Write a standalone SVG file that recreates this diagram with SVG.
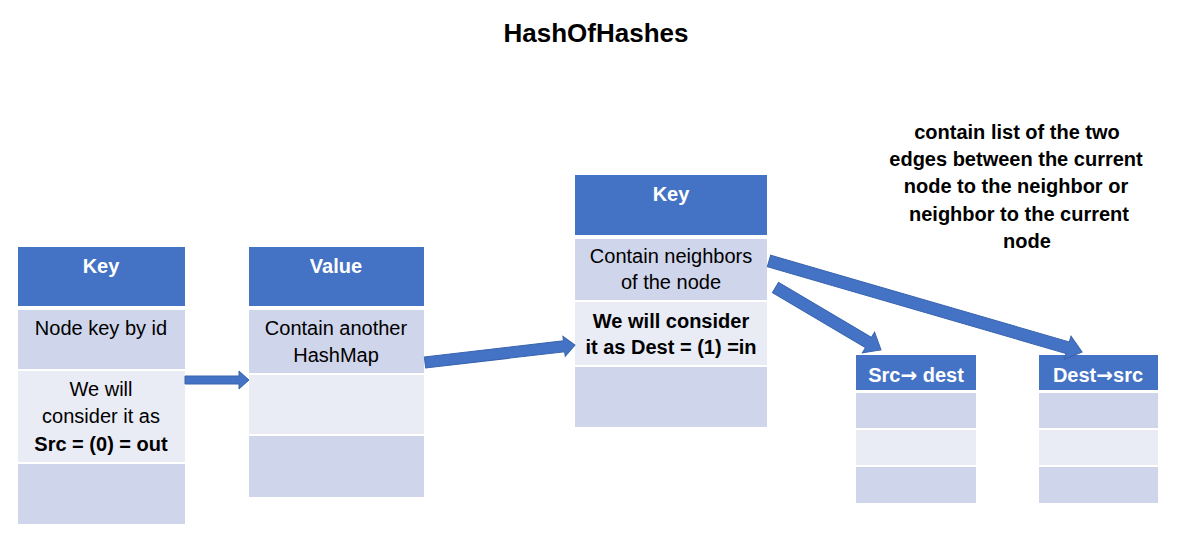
<svg xmlns="http://www.w3.org/2000/svg" width="1179" height="550" viewBox="0 0 1179 550">
<style>
  .hd { fill: #4472C4; }
  .r1 { fill: #CFD5EA; }
  .r2 { fill: #E9EBF5; }
  text { font-family: "Liberation Sans", Arial, sans-serif; text-anchor: middle; }
  .ht { fill: #FFFFFF; font-weight: bold; font-size: 20px; }
  .ct { fill: #000000; font-size: 20px; }
  .b { font-weight: bold; }
  .ar { font-family: "DejaVu Sans", sans-serif; font-weight: bold; }
  .note { fill: #000000; font-weight: bold; font-size: 20px; }
  .arr { fill: #4472C4; stroke: #3A64AE; stroke-width: 1; }
</style>
<rect width="1179" height="550" fill="#FFFFFF"/>
<text x="596" y="42" style="font-size:26px;font-weight:bold;fill:#000">HashOfHashes</text>

<g id="key-table">
  <rect class="hd" x="18" y="247" width="167" height="59"/>
  <rect class="r1" x="18" y="310" width="167" height="59"/>
  <rect class="r2" x="18" y="371" width="167" height="91"/>
  <rect class="r1" x="18" y="464" width="167" height="60"/>
  <text class="ht" x="101" y="273">Key</text>
  <text class="ct" x="101" y="335">Node key by id</text>
  <text class="ct" x="101" y="396">We will</text>
  <text class="ct" x="101" y="423">consider it as</text>
  <text class="ct b" x="101" y="451">Src = (0) = out</text>
</g>

<g id="value-table">
  <rect class="hd" x="249" y="247" width="175" height="59"/>
  <rect class="r1" x="249" y="310" width="175" height="63"/>
  <rect class="r2" x="249" y="375" width="175" height="59"/>
  <rect class="r1" x="249" y="436" width="175" height="61"/>
  <text class="ht" x="336" y="273">Value</text>
  <text class="ct" x="336" y="335">Contain another</text>
  <text class="ct" x="336" y="362">HashMap</text>
</g>

<g id="inner-key-table">
  <rect class="hd" x="575" y="175" width="192" height="60"/>
  <rect class="r1" x="575" y="239" width="192" height="61"/>
  <rect class="r2" x="575" y="302" width="192" height="63"/>
  <rect class="r1" x="575" y="367" width="192" height="60"/>
  <text class="ht" x="671" y="201">Key</text>
  <text class="ct" x="671" y="263">Contain neighbors</text>
  <text class="ct" x="671" y="289">of the node</text>
  <text class="ct b" x="671" y="328">We will consider</text>
  <text class="ct b" x="671" y="354">it as Dest = (1) =in</text>
</g>

<g id="src-dest-table">
  <rect class="hd" x="856" y="355" width="120" height="35"/>
  <rect class="r1" x="856" y="393" width="120" height="35"/>
  <rect class="r2" x="856" y="430" width="120" height="35"/>
  <rect class="r1" x="856" y="467" width="120" height="36"/>
  <text class="ht" x="916" y="382">Src<tspan class="ar">→</tspan> dest</text>
</g>

<g id="dest-src-table">
  <rect class="hd" x="1039" y="355" width="119" height="35"/>
  <rect class="r1" x="1039" y="393" width="119" height="35"/>
  <rect class="r2" x="1039" y="430" width="119" height="35"/>
  <rect class="r1" x="1039" y="467" width="119" height="36"/>
  <text class="ht" x="1098" y="382">Dest<tspan class="ar">→</tspan>src</text>
</g>

<g id="note">
  <text class="note" x="1017" y="139">contain list of the two</text>
  <text class="note" x="1016" y="166">edges between the current</text>
  <text class="note" x="1016" y="193">node to the neighbor or</text>
  <text class="note" x="1019" y="221">neighbor to the current</text>
  <text class="note" x="1027" y="248">node</text>
</g>

<g id="connectors">
  <path class="arr" transform="translate(185,380)" d="M0,-4 L54,-4 L54,-9 L64,0 L54,9 L54,4 L0,4 Z"/>
  <path class="arr" transform="translate(425,362.5) rotate(-6.65)" d="M0,-5.5 L140,-5.5 L140,-10 L151,0 L140,10 L140,5.5 L0,5.5 Z"/>
  <path class="arr" transform="translate(769,261) rotate(16.2)" d="M0,-6 L311,-6 L311,-12 L326,0 L311,12 L311,6 L0,6 Z"/>
  <path class="arr" transform="translate(775.5,287.5) rotate(30.6)" d="M0,-6 L108,-6 L108,-12 L122.6,0 L108,12 L108,6 L0,6 Z"/>
</g>
</svg>
